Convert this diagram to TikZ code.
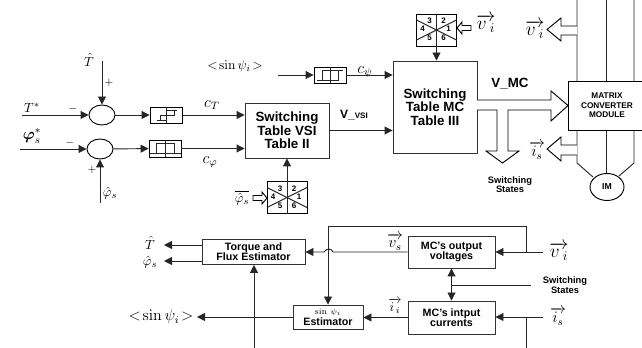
\documentclass[tikz,border=0pt]{standalone}
\usepackage{amsmath}
\usepackage[no-math]{fontspec}
\setsansfont{Liberation Sans}
\usetikzlibrary{arrows.meta,shapes.geometric,calc}
\tikzset{
  >={Triangle[length=6pt,width=6pt]},
  wire/.style={line width=0.7pt,black!85},
  tablebox/.style={draw,line width=0.7pt,black!80,text=black,inner sep=0pt,align=center,
    font=\sffamily\bfseries\fontsize{10}{10}\selectfont},
  estbox/.style={draw,line width=0.7pt,black!80,text=black,inner sep=0pt,align=center,
    font=\sffamily\bfseries\fontsize{8}{7.5}\selectfont},
  smalltext/.style={inner sep=0pt,align=center,font=\sffamily\bfseries\fontsize{7}{7}\selectfont},
  hystbox/.style={draw,line width=0.7pt,minimum width=24pt,minimum height=12pt,inner sep=0pt},
  sectbox/.style={draw,line width=0.7pt,minimum width=30pt,minimum height=24pt,inner sep=0pt},
  sumnode/.style={draw,ellipse,line width=0.7pt,minimum width=19.5pt,minimum height=15pt,inner sep=0pt},
  mathlabel/.style={inner sep=0pt},
  vectorlabel/.style={inner sep=0pt,anchor=base,font=\Large},
  hollow/.style={draw,line width=0.7pt,fill=white,line join=miter}
}
% six sectors inside a named box
\newcommand{\sectors}[1]{
  \draw[wire] (#1.north) -- (#1.south);
  \draw[wire] ($(#1)+(-20,-10)$) -- ($(#1)+(20,10)$);
  \draw[wire] ($(#1)+(-20,10)$) -- ($(#1)+(20,-10)$);
  \foreach \num/\dx/\dy in {3/-7/-9,2/7/-9,4/-14/-1,1/12/-1,5/-7/8,6/7/8}
    \node[inner sep=0pt,font=\sffamily\bfseries\fontsize{6}{6}\selectfont] at ($(#1)+(\dx,\dy)$) {\num};
}
% letter with a long arrow at a fixed height above it
\newcommand{\highvec}[2]{$\overrightarrow{\rule{0pt}{#2}\smash{#1}}$}
\begin{document}
\begin{tikzpicture}[x=0.75pt,y=-0.75pt]
    \clip (0,0) rectangle (642,348);

    % Summing points and hysteresis boxes
    \node[sumnode] (sumT) at (102,115) {};
    \node[sumnode] (sumPhi) at (100,149) {};
    \node[hystbox] (hystT) at (166,115) {};
    \node[hystbox,minimum height=12.75pt] (hystPhi) at (165,148.5) {};
    \node[hystbox] (hystPsi) at (330,75) {};

    % Hysteresis characteristics
    \draw[wire] (hystT.north) -- (hystT.south);
    \draw[wire] (157,120) -- (166,120) (160,120) -- (160,115) -- (174,115) -- (174,110) (166,110) -- (177,110);
    \draw[wire] (hystPhi.north) -- (hystPhi.south);
    \draw[wire] (hystPhi.west |- 0,153) -- (hystPhi.east |- 0,153);
    \draw[wire] (156,153) -- (156,143) -- (174,143) -- (174,153);
    \draw[wire] (hystPsi.north) -- (hystPsi.south);
    \draw[wire] (317,80) -- (338,80) -- (338,70) (322,80) -- (322,70) -- (343,70);

    % Switching tables
    \node[tablebox,minimum width=63pt,minimum height=41.25pt] (tableVSI) at (287,130.5) {Switching\\Table VSI\\Table II};
    \node[tablebox,minimum width=63pt,minimum height=69pt] (tableMC) at (435,107) {Switching\\Table MC\\Table III};

    % Sector boxes
    \node[sectbox] (sectVSI) at (287,197.5) {};
    \sectors{sectVSI}
    \node[sectbox] (sectMC) at (436.5,30) {};
    \sectors{sectMC}

    % Converter module and motor
    \draw[wire] (577,0) -- (577,163) -- (593,177);
    \draw[wire] (606,0) -- (606,173);
    \draw[wire] (634,0) -- (634,163) -- (619,176);
    \node[draw,line width=0.7pt,fill=white,minimum width=58.5pt,minimum height=36.75pt,inner sep=0pt,align=center,
      font=\sffamily\bfseries\fontsize{6.2}{7}\selectfont] (module) at (607,105.5) {MATRIX\\CONVERTER\\MODULE};
    \node[draw,ellipse,line width=0.7pt,fill=white,minimum width=25.5pt,minimum height=20.25pt,inner sep=0pt,
      font=\sffamily\bfseries\fontsize{6.5}{7}\selectfont] (motor) at (607,187) {IM};

    % Hollow arrows
    \draw[hollow] (477,100) -- (551,100) -- (551,91) -- (568,105.5) -- (551,121) -- (551,110) -- (508,110) -- (508,151)
      -- (519,151) -- (502.5,163) -- (486,151) -- (497,151) -- (497,110) -- (477,110);
    \draw[hollow] (577,26) -- (561,26) -- (561,18) -- (547,29.5) -- (561,41) -- (561,35) -- (577,35);
    \draw[hollow] (577,145) -- (561,145) -- (561,137) -- (547,149) -- (561,161) -- (561,155) -- (577,155);
    \draw[hollow] (471,25.5) -- (462,25.5) -- (462,22) -- (457,28) -- (462,34) -- (462,30.5) -- (471,30.5) -- cycle;
    \draw[hollow] (253,195.5) -- (262,195.5) -- (262,192) -- (267,198) -- (262,204) -- (262,200.5) -- (253,200.5) -- cycle;

    % Free ends
    \coordinate (inT) at (22,115);
    \coordinate (inPhi) at (20,149);
    \coordinate (fbT) at (102,61);
    \coordinate (fbPhi) at (100,203);
    \coordinate (inSin) at (278,75);
    \coordinate (inV) at (543,252);
    \coordinate (inI) at (543,317);
    \coordinate (tapV) at (526,252);
    \coordinate (tapI) at (526,317);
    \coordinate (botI) at (526,348);
    \coordinate (botEst) at (254,348);
    \coordinate (outT) at (164,245);
    \coordinate (outPhi) at (164,261);
    \coordinate (outSin) at (197,317);
    \coordinate (tapSw) at (452,285);
    \coordinate (endSw) at (531,285);

    % Upper connectors
    \draw[wire,->] (inT) -- (sumT);
    \draw[wire,->] (inPhi) -- (sumPhi);
    \draw[wire,->] (fbT) -- (sumT);
    \draw[wire,->] (fbPhi) -- (sumPhi);
    \draw[wire,->] (sumT) -- (hystT);
    \draw[wire,->] (sumPhi) -- (hystPhi);
    \draw[wire,->] (hystT) -- (hystT -| tableVSI.west);
    \draw[wire,->] (hystPhi) -- (hystPhi -| tableVSI.west);
    \draw[wire,->] (inSin) -- (hystPsi);
    \draw[wire,->] (hystPsi) -- (hystPsi -| tableMC.west);
    \draw[wire,->] (tableVSI.east) -- (tableVSI.east -| tableMC.west);
    \draw[wire,->] (sectVSI) -- (tableVSI);
    \draw[wire,->] (sectMC) -- (sectMC |- tableMC.north);

    % Estimator blocks
    \node[estbox,minimum width=77.25pt,minimum height=18.75pt] (estFlux) at (253.5,252) {Torque and\\Flux Estimator};
    \node[estbox,minimum width=52.5pt,minimum height=18pt] (estSin) at (328,317) {{\rmfamily\mdseries\fontsize{6.5}{7}\selectfont sin $\psi_i$}\\[1pt]Estimator};
    \node[estbox,minimum width=65.25pt,minimum height=24pt] (outVolt) at (451.5,252) {MC's output\\voltages};
    \node[estbox,minimum width=65.25pt,minimum height=24.75pt] (inCurr) at (451.5,317.5) {MC's intput\\currents};

    % Lower connectors
    \draw[wire,->] (outVolt.west) -- (333,252) .. controls (331,248) and (327,248) .. (324,252) -- (estFlux.east);
    \draw[wire,->] (inV) -- (outVolt);
    \draw[wire,->] (inI) -- (inI -| inCurr.east);
    \draw[wire,->] (tapV) -- (526,226) -- (328,226) -- (estSin);
    \draw[wire] (tapI) -- (botI);
    \draw[wire,<->] (outVolt) -- (inCurr);
    \draw[wire] (tapSw) -- (endSw);
    \draw[wire,->] (inCurr.west) -- (inCurr.west -| estSin.east);
    \draw[wire,->] (botEst) -- (estFlux.south -| botEst);
    \draw[wire,->] (estFlux.west |- outT) -- (outT);
    \draw[wire,->] (estFlux.west |- outPhi) -- (outPhi);
    \draw[wire,->] (estSin.west |- outSin) -- (outSin);

    % Labels, upper part
    \node[mathlabel] (lblT) at (89,60) {$\hat{T}$};
    \node[mathlabel] (lblPlusT) at (109,83) {\footnotesize $+$};
    \node[mathlabel] (lblTref) at (32,108) {$T^{*}$};
    \node[mathlabel] (lblMinusT) at (73,109) {\footnotesize $-$};
    \node[mathlabel] (lblPhiref) at (32,136) {\large $\boldsymbol{\varphi}_{s}^{*}$};
    \node[mathlabel] (lblMinusPhi) at (70,143) {\footnotesize $-$};
    \node[mathlabel] (lblPlusPhi) at (92,170) {\footnotesize $+$};
    \node[mathlabel] (lblPhi) at (110,193) {$\hat{\varphi}_{s}$};
    \node[mathlabel] (lblCT) at (212,105) {\large $c_{T}$};
    \node[mathlabel] (lblCPhi) at (210,162) {\large $c_{\varphi}$};
    \node[mathlabel] (lblCPsi) at (365,72) {\large $c_{\psi}$};
    \node[mathlabel] (lblSinUp) at (235,66) {$<\!\sin\psi_{i}\!>$};
    \node[mathlabel,font=\sffamily\bfseries\fontsize{9}{9}\selectfont] (lblVVSI) at (354,115) {V\_{\fontsize{6}{6}\selectfont VSI}};
    \node[mathlabel,font=\sffamily\bfseries\fontsize{10}{10}\selectfont] (lblVMC) at (510,84) {V\_MC};
    \node[mathlabel] (lblPhiSect) at (242,198) {$\overline{\hat{\varphi}_{s}}$};
    \node[vectorlabel] (lblViSect) at (486,30) {\highvec{v_{\;i}}{6pt}};
    \node[vectorlabel] (lblViMod) at (535,36) {\highvec{v_{\;i}}{6pt}};
    \node[vectorlabel,font=\large] (lblIsMod) at (537,157) {\highvec{i_{s}}{7pt}};
    \node[smalltext] (lblStatesUp) at (510,185) {Switching\\States};

    % Labels, lower part
    \node[mathlabel] (lblTout) at (150,243) {$\hat{T}$};
    \node[mathlabel] (lblPhiout) at (150,262) {$\hat{\varphi}_{s}$};
    \node[mathlabel,font=\large] (lblSinOut) at (161,317) {$<\!\sin\psi_{i}\!>$};
    \node[vectorlabel,font=\large] (lblVs) at (395,248) {\highvec{v_{s}}{6pt}};
    \node[vectorlabel,font=\normalsize] (lblIi) at (395,312) {\highvec{i_{\,i}}{6pt}};
    \node[vectorlabel] (lblViEst) at (559,258) {\highvec{v_{\;i}}{6pt}};
    \node[vectorlabel,font=\large] (lblIsEst) at (558,323) {\highvec{i_{s}}{7pt}};
    \node[smalltext] (lblStatesLow) at (565,285) {Switching\\States};
    \end{tikzpicture}
\end{document}
